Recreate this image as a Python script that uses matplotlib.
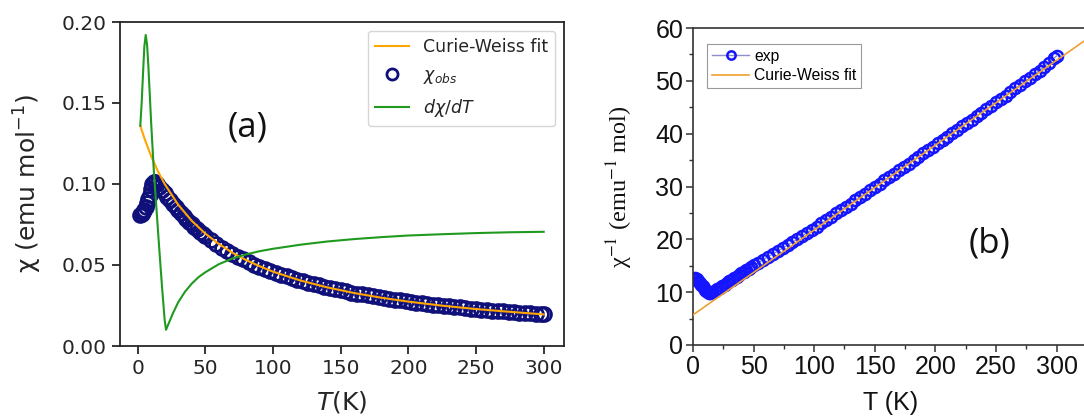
import matplotlib
matplotlib.use("Agg")
import matplotlib.pyplot as plt
from matplotlib.ticker import MultipleLocator, FormatStrFormatter

# ---------------- data ----------------
# temperature grid of the measurement (K)
T_obs = [2, 3, 4, 5, 6, 7, 8, 9, 10, 11, 12, 13, 14,
         16, 18, 20, 22, 24, 26, 28, 30, 32, 34, 36, 38, 40, 42, 44, 46, 48, 50,
         54, 58, 62, 66, 70, 74, 78, 82, 86, 90, 94, 98, 102,
         106, 110, 114, 118, 122, 126, 130, 134, 138, 142, 146, 150, 154, 158,
         162, 166, 170, 174, 178, 182, 186, 190, 194, 198, 202, 206, 210, 214,
         218, 222, 226, 230, 234, 238, 242, 246, 250, 254, 258, 262, 266, 270,
         274, 278, 282, 286, 290, 294, 298, 300]

# panel (a): observed susceptibility (emu/mol)
chi_obs = [0.0810, 0.0815, 0.0825, 0.0840, 0.0860, 0.0880, 0.0905, 0.0935, 0.0970, 0.1000, 0.1015, 0.1010, 0.1000,
           0.0983, 0.0960, 0.0945, 0.0921, 0.0899, 0.0879, 0.0858, 0.0838, 0.0819, 0.0801, 0.0784, 0.0767, 0.0751,
           0.0736, 0.0721, 0.0706, 0.0692, 0.0679,
           0.0654, 0.0631, 0.0608, 0.0588, 0.0568, 0.0550, 0.0534, 0.0518, 0.0503, 0.0490, 0.0476, 0.0464, 0.0452,
           0.0441, 0.0430, 0.0420, 0.0410, 0.0400, 0.0391, 0.0382, 0.0374, 0.0366, 0.0358, 0.0350, 0.0343, 0.0337,
           0.0330, 0.0324, 0.0318, 0.0312, 0.0306, 0.0301, 0.0296, 0.0291, 0.0286, 0.0281, 0.0276, 0.0272, 0.0268,
           0.0264, 0.0260, 0.0256, 0.0252, 0.0248, 0.0245, 0.0241, 0.0238, 0.0234, 0.0231, 0.0228, 0.0225, 0.0222,
           0.0219, 0.0217, 0.0214, 0.0211, 0.0209, 0.0206, 0.0204, 0.0201, 0.0199, 0.0197, 0.0195]

# panel (a): Curie-Weiss fit
T_fit_a = [2, 5, 10, 15, 20, 30, 40, 50, 60, 70, 80, 90, 100, 120, 140, 160, 180, 200, 225, 250, 275, 300]
chi_fit_a = [0.1360, 0.1283, 0.1172, 0.1079, 0.1000, 0.0872, 0.0773, 0.0694, 0.0630, 0.0576, 0.0531, 0.0493,
             0.0459, 0.0405, 0.0362, 0.0327, 0.0298, 0.0274, 0.0249, 0.0228, 0.0211, 0.0195]

# panel (a): d(chi)/dT (scaled)
T_deriv = [2, 3, 4, 5, 6, 7, 8, 10, 12, 14, 16, 18, 20, 21, 22, 24, 26, 28, 30, 35, 40, 45, 50, 60, 70,
           80, 90, 100, 120, 140, 160, 180, 200, 225, 250, 275, 300]
dchi_dT = [0.136, 0.150, 0.168, 0.185, 0.192, 0.186, 0.172, 0.138, 0.108, 0.084, 0.060, 0.037, 0.016, 0.010,
           0.012, 0.016, 0.020, 0.0235, 0.027, 0.0335, 0.0385, 0.0425, 0.0455, 0.0505, 0.0540, 0.0565, 0.0585,
           0.0600, 0.0625, 0.0645, 0.0660, 0.0672, 0.0682, 0.0690, 0.0697, 0.0702, 0.0705]

# panel (b): inverse susceptibility (emu^-1 mol)
inv_chi = [12.6, 12.4, 12.2, 12.0, 11.7, 11.4, 11.1, 10.8, 10.5, 10.2, 10.0, 9.9, 9.9,
           10.0, 10.25, 10.55, 10.85, 11.15, 11.45, 11.75, 12.05, 12.35, 12.65, 12.95, 13.25, 13.55, 13.85,
           14.15, 14.45, 14.75, 15.05,
           15.6, 16.15, 16.7, 17.25, 17.8, 18.35, 18.9, 19.45, 20.0, 20.6, 21.2, 21.8, 22.4,
           23.0, 23.65, 24.27, 24.9, 25.52, 26.15, 26.78, 27.4, 28.03, 28.65, 29.28, 29.9, 30.54, 31.17,
           31.8, 32.44, 33.08, 33.72, 34.35, 35.0, 35.63, 36.27, 36.9, 37.54, 38.18, 38.82, 39.46, 40.1,
           40.74, 41.38, 42.02, 42.66, 43.3, 43.95, 44.6, 45.25, 45.9, 46.55, 47.2, 47.9, 48.55, 49.2,
           49.9, 50.55, 51.25, 51.95, 52.7, 53.45, 54.3, 54.7]

# panel (b): Curie-Weiss fit line
T_fit_b = [0, 340]
inv_fit_b = [5.7, 60.3]

assert len(T_obs) == len(chi_obs) == len(inv_chi)

# ---------------- figure ----------------
W, H = 1084, 418
fig = plt.figure(figsize=(W / 100, H / 100), dpi=100)
fig.patch.set_facecolor("white")

def px_axes(l, t, r, b):
    return fig.add_axes([l / W, 1 - b / H, (r - l) / W, (b - t) / H])

dark = "#262626"

# ---- panel (a) ----
ax1 = px_axes(120, 22, 564, 346)
ax1.plot(T_fit_a, chi_fit_a, color="orange", lw=1.5, zorder=3, label="Curie-Weiss fit")
ax1.plot(T_obs, chi_obs, ls="none", marker="o", ms=10, mfc="none", mec="#10107a", mew=2.0,
         zorder=2, label=r"$\chi_{obs}$")
ax1.plot(T_deriv, dchi_dT, color="#1f9a1f", lw=1.5, zorder=4, label=r"$d\chi/dT$")
ax1.set_xlim(-13, 315)
ax1.set_ylim(0, 0.20)
ax1.xaxis.set_major_locator(MultipleLocator(50))
ax1.yaxis.set_major_locator(MultipleLocator(0.05))
ax1.yaxis.set_major_formatter(FormatStrFormatter("%.2f"))
for s in ax1.spines.values():
    s.set_color(dark)
    s.set_linewidth(1.3)
ax1.tick_params(labelsize=14.5, colors=dark, length=6, width=1.3)
ax1.set_xlabel(r"$T$(K)", fontsize=18, color=dark, math_fontfamily="dejavusans")
ax1.set_ylabel(r"χ (emu mol$^{-1}$)", fontsize=18, color=dark, math_fontfamily="dejavusans")
ax1.xaxis.set_label_coords(0.5, -0.133)
ax1.yaxis.set_label_coords(-0.172, 0.5)
leg1 = ax1.legend(loc="upper right", fontsize=12.5, framealpha=0.8, edgecolor="#cccccc",
                  labelspacing=0.62, markerscale=0.8)
for t in leg1.get_texts():
    t.set_color(dark)
fig.text(248 / W, 1 - 128 / H, "(a)", fontsize=25, family="Open Sans", ha="center", va="center", color="#111111")

# ---- panel (b) ----
ax2 = px_axes(693, 28, 1105, 345)
ax2.plot(T_obs, inv_chi, color="#8c8cd0", lw=1.0, marker="o", ms=8, mfc="none", mec="#1515ff",
         mew=1.8, zorder=2, label="exp")
ax2.plot(T_fit_b, inv_fit_b, color="#f0a030", lw=1.2, zorder=3, label="Curie-Weiss fit")
ax2.set_xlim(0, 340)
ax2.set_ylim(0, 60)
ax2.xaxis.set_major_locator(MultipleLocator(50))
ax2.xaxis.set_minor_locator(MultipleLocator(25))
ax2.yaxis.set_major_locator(MultipleLocator(10))
ax2.yaxis.set_minor_locator(MultipleLocator(5))
for s in ax2.spines.values():
    s.set_color("#333333")
    s.set_linewidth(1.2)
ax2.tick_params(which="major", length=5, width=1.1, colors="#333333", labelsize=18, pad=2)
ax2.tick_params(which="minor", length=3, width=1.0, colors="#333333")
for lab in ax2.get_xticklabels() + ax2.get_yticklabels():
    lab.set_family("Liberation Sans")
    lab.set_color("#111111")
ax2.set_xlabel("T (K)", fontsize=18, family="Liberation Sans", color="#111111")
ax2.xaxis.set_label_coords(0.48, -0.145)
ax2.set_ylabel(r"χ$^{-1}$ (emu$^{-1}$ mol)", fontsize=17.5, family="Liberation Serif",
               color="#111111", math_fontfamily="stix")
ax2.yaxis.set_label_coords(-0.14, 0.5)
leg2 = ax2.legend(loc="upper left", bbox_to_anchor=(707 / W, 1 - 44 / H), bbox_transform=fig.transFigure,
                  borderaxespad=0, prop={"family": "Liberation Sans", "size": 11.3}, fancybox=False,
                  edgecolor="#999999", framealpha=1, borderpad=0.3, labelspacing=0.3,
                  handlelength=2.4, handletextpad=0.3, markerscale=0.75)
leg2.get_frame().set_linewidth(0.8)
fig.text(990 / W, 1 - 243 / H, "(b)", fontsize=25, family="Open Sans", ha="center", va="center", color="#111111")

fig.savefig("out.png", dpi=100, facecolor="white")
